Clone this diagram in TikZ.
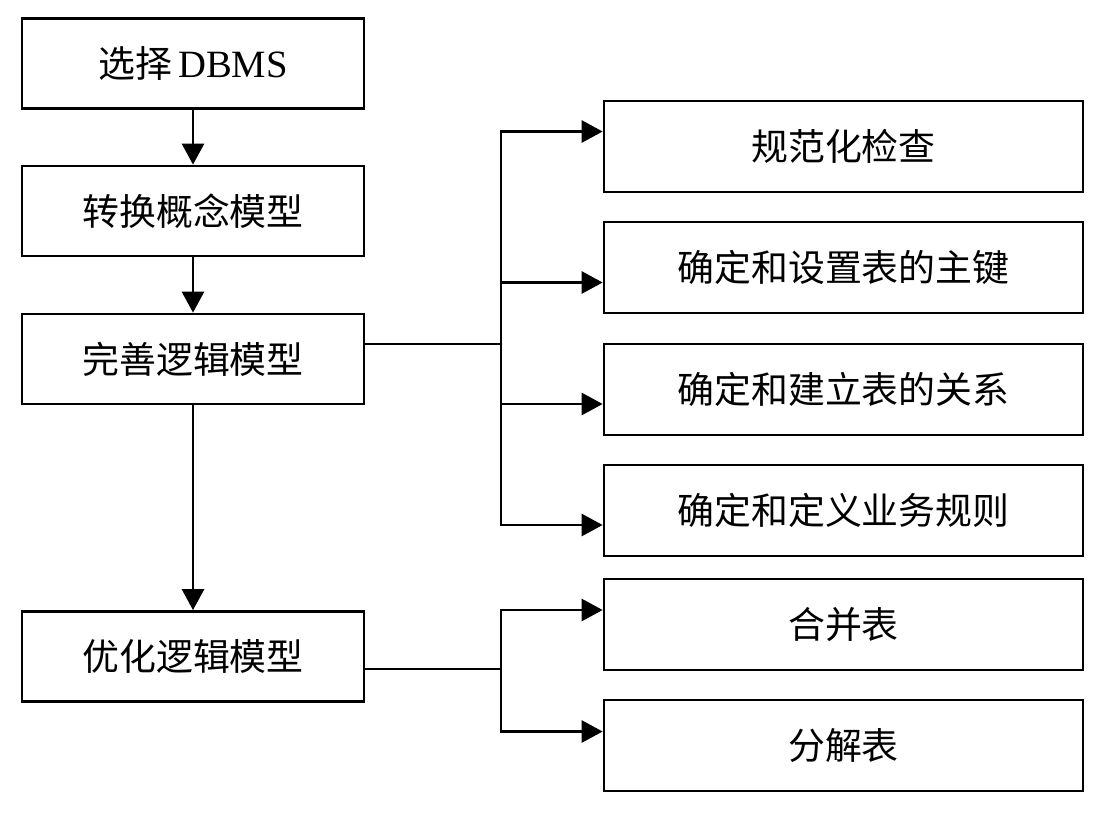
\documentclass[tikz,border=0pt]{standalone}
\usepackage{fontspec}
\setmainfont{Liberation Serif}
\newfontfamily\cjk{Noto Sans CJK SC}
\usepackage{tikz}
\usetikzlibrary{arrows.meta, positioning}

\begin{document}
\begin{tikzpicture}[x=0.02cm, y=-0.02cm,
    stepbox/.style={draw, line width=1.6pt, minimum width=6.84cm, minimum height=1.8cm, inner sep=0pt, font=\fontsize{21}{25}\selectfont\cjk},
    taskbox/.style={draw, line width=1.6pt, minimum width=9.58cm, minimum height=1.82cm, inner sep=0pt, font=\fontsize{21}{25}\selectfont\cjk},
    arr/.style={line width=1.6pt, -{Triangle[length=0.42cm, width=0.44cm]}},
    link/.style={line width=1.6pt}]
    \useasboundingbox (0,0) rectangle (1108,818);

    % Steps on the left
    \node[stepbox] (sel) at (193,63.5) {选择\,{\rmfamily\fontsize{22}{25}\selectfont DBMS}};
    \node[stepbox] (conv) at (193,211) {转换概念模型};
    \node[stepbox] (perf) at (193,359) {完善逻辑模型};
    \node[stepbox] (opt) at (193,656.5) {优化逻辑模型};

    \draw[arr] (sel) -- (conv);
    \draw[arr] (conv) -- (perf);
    \draw[arr] (perf) -- (opt);

    % Tasks of the third step
    \node[taskbox] (norm) at (843.5,146.5) {规范化检查};
    \node[taskbox] (pkey) at (843.5,267.5) {确定和设置表的主键};
    \node[taskbox] (rel) at (843.5,389.5) {确定和建立表的关系};
    \node[taskbox] (rule) at (843.5,510.5) {确定和定义业务规则};

    \coordinate (j1) at (501,344);
    \draw[link] (perf.east |- j1) -- (j1);
    \draw[arr] (j1) |- ([yshift=0.3cm]norm.west);
    \draw[arr] (j1) |- ([yshift=-0.3cm]pkey.west);
    \draw[arr] (j1) |- ([yshift=-0.29cm]rel.west);
    \draw[arr] (j1) |- ([yshift=-0.29cm]rule.west);

    % Tasks of the fourth step
    \node[taskbox] (merge) at (843.5,624.5) {合并表};
    \node[taskbox] (split) at (843.5,745.5) {分解表};

    \coordinate (j2) at (501,669);
    \draw[link] (opt.east |- j2) -- (j2);
    \draw[arr] (j2) |- ([yshift=0.29cm]merge.west);
    \draw[arr] (j2) |- ([yshift=0.28cm]split.west);
\end{tikzpicture}
\end{document}
